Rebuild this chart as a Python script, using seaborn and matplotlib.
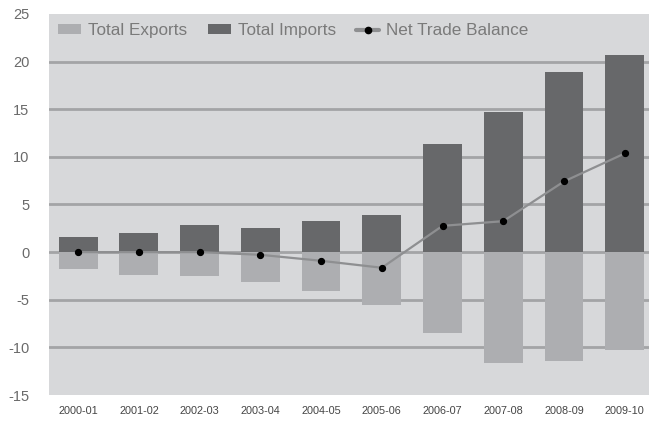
import matplotlib
matplotlib.use("Agg")
import matplotlib.pyplot as plt
import seaborn as sns
from matplotlib.patches import Patch
from matplotlib.lines import Line2D

periods = ["2000-01", "2001-02", "2002-03", "2003-04", "2004-05",
           "2005-06", "2006-07", "2007-08", "2008-09", "2009-10"]
total_exports = [-1.82, -2.35, -2.55, -3.18, -4.13, -5.5, -8.54, -11.69, -11.48, -10.32]
total_imports = [1.54, 1.96, 2.8, 2.49, 3.22, 3.95, 11.34, 14.7, 18.9, 20.68]
net_balance = [0.0, 0.0, 0.0, -0.28, -0.91, -1.64, 2.76, 3.25, 7.42, 10.36]
y_ticks = [-15, -10, -5, 0, 5, 10, 15, 20, 25]

c_exp = "#adaeb1"
c_imp = "#67686a"
c_bg = "#d7d8da"
c_grid = "#a3a4a6"
c_line = "#8e8f91"
c_text = "#6a6a6a"

sns.set_style("white")
plt.rcParams["font.family"] = ["Liberation Sans", "DejaVu Sans"]

fig = plt.figure(figsize=(6.49, 4.23), dpi=100)
ax = fig.add_axes([49 / 649, 28 / 423, 600 / 649, 381 / 423])
ax.set_facecolor(c_bg)

for t in y_ticks[1:-1]:
    ax.axhline(t, color=c_grid, linewidth=2.0, zorder=0.5)

sns.barplot(x=periods, y=total_imports, color=c_imp, width=0.64, ax=ax,
            saturation=1, edgecolor="none", linewidth=0, zorder=2)
sns.barplot(x=periods, y=total_exports, color=c_exp, width=0.64, ax=ax,
            saturation=1, edgecolor="none", linewidth=0, zorder=2)
sns.pointplot(x=periods, y=net_balance, color=c_line, markers="", linewidth=1.6,
              ax=ax, zorder=3)
sns.pointplot(x=periods, y=net_balance, color="black", markers="o", linestyle="none",
              markersize=3.2, ax=ax, zorder=4)

ax.set_xlim(-0.48, 9.40)
ax.set_ylim(-15, 25)
ax.set_yticks(y_ticks)
ax.set_yticklabels([str(t) for t in y_ticks])
for s in ax.spines.values():
    s.set_visible(False)
ax.tick_params(axis="y", length=0, pad=14, labelsize=10.5, labelcolor=c_text)
ax.tick_params(axis="x", length=0, pad=8, labelsize=7.8, labelcolor="#444444")
ax.set_xlabel("")
ax.set_ylabel("")

handles = [
    Patch(facecolor=c_exp, edgecolor="none"),
    Patch(facecolor=c_imp, edgecolor="none"),
    Line2D([0], [0], color=c_line, linewidth=3, marker="o", markersize=4.5,
           markerfacecolor="black", markeredgecolor="black"),
]
labels = ["Total Exports", "Total Imports", "Net Trade Balance"]
leg = ax.legend(handles, labels, loc="upper left", ncol=3, frameon=False,
                bbox_to_anchor=(0.0, 1.0), fontsize=12.3, handlelength=1.35,
                handleheight=0.55, handletextpad=0.4, columnspacing=1.2,
                borderaxespad=0.15)
for txt in leg.get_texts():
    txt.set_color("#7a7a7a")

fig.savefig("out.png", dpi=100)
